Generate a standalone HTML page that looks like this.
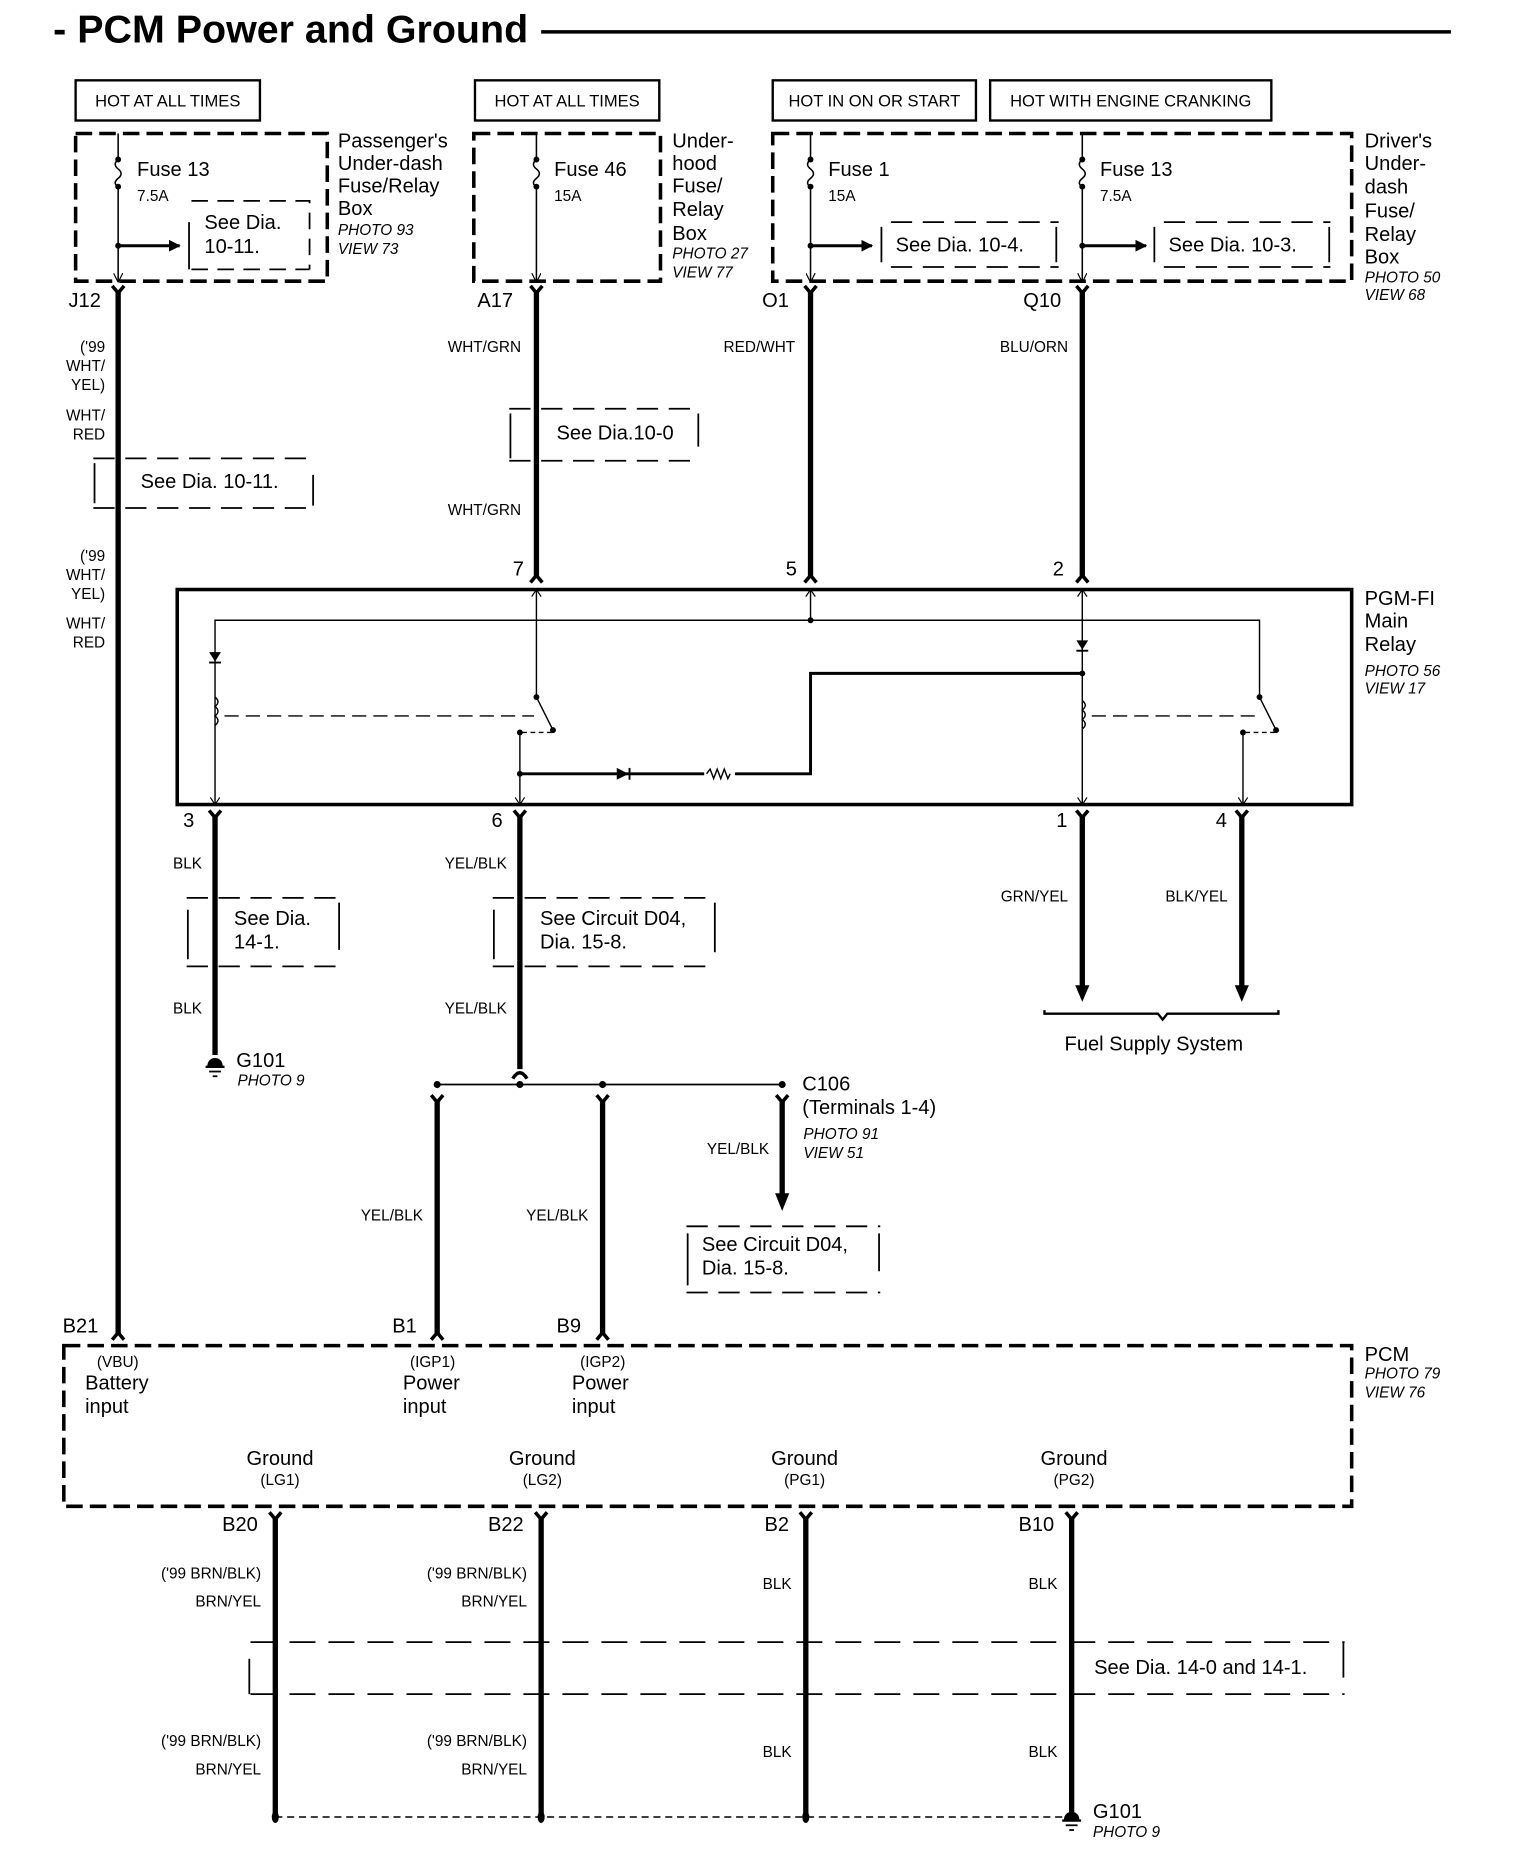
<!DOCTYPE html>
<html><head><meta charset="utf-8"><style>
html,body{margin:0;padding:0;background:#fff;}
svg{display:block;}
text{font-family:"Liberation Sans",Arial,sans-serif;fill:#000;}
.L{font-size:17px;}
.S{font-size:13px;}
.I{font-size:13px;font-style:italic;}
.H{font-size:14px;}
.r{text-anchor:end;}
.c{text-anchor:middle;}
</style></head><body>
<svg width="1536" height="1856" viewBox="0 0 1300 1571" preserveAspectRatio="none" xmlns="http://www.w3.org/2000/svg">
<defs>
<marker id="ah" markerWidth="10" markerHeight="10" refX="9" refY="5" orient="auto" markerUnits="userSpaceOnUse"><path d="M0,0 L10,5 L0,10 Z" fill="#000"/></marker>
<marker id="as" markerWidth="8" markerHeight="8" refX="7" refY="4" orient="auto" markerUnits="userSpaceOnUse"><path d="M0,0 L8,4 L0,8" fill="none" stroke="#000" stroke-width="1"/></marker>
</defs>
<rect width="1300" height="1571" fill="#fff"/>
<!-- Title -->
<text x="45" y="36" style="font-size:33px;font-weight:bold" textLength="402" lengthAdjust="spacingAndGlyphs">- PCM Power and Ground</text>
<line x1="458" y1="27" x2="1228" y2="27" stroke="#000" stroke-width="3"/>

<!-- HOT boxes -->
<g fill="none" stroke="#000" stroke-width="2">
<rect x="64" y="68" width="156" height="34"/>
<rect x="402" y="68" width="156" height="34"/>
<rect x="654" y="68" width="172" height="34"/>
<rect x="838" y="68" width="238" height="34"/>
</g>
<text class="H c" x="142" y="90">HOT AT ALL TIMES</text>
<text class="H c" x="480" y="90">HOT AT ALL TIMES</text>
<text class="H c" x="740" y="90">HOT IN ON OR START</text>
<text class="H c" x="957" y="90">HOT WITH ENGINE CRANKING</text>

<!-- Fuse boxes -->
<g fill="none" stroke="#000" stroke-width="3" stroke-dasharray="14,6">
<rect x="64" y="113" width="213" height="125"/>
<rect x="401" y="113" width="158" height="125"/>
<rect x="654" y="113" width="490" height="125"/>
</g>
<g stroke="#000" stroke-width="1.3" fill="none">
<path d="M100,113 V135 M100,158 V238" marker-end="url(#as)"/>
<path d="M100,135 q-5,4 0,8 q5,4 0,8 q-5,4 0,7"/>
<path d="M454,113 V135 M454,158 V238" marker-end="url(#as)"/>
<path d="M454,135 q-5,4 0,8 q5,4 0,8 q-5,4 0,7"/>
<path d="M686,113 V135 M686,158 V238" marker-end="url(#as)"/>
<path d="M686,135 q-5,4 0,8 q5,4 0,8 q-5,4 0,7"/>
<path d="M916,113 V135 M916,158 V238" marker-end="url(#as)"/>
<path d="M916,135 q-5,4 0,8 q5,4 0,8 q-5,4 0,7"/>
</g>
<g fill="#000">
<circle cx="100" cy="135" r="2.5"/><circle cx="100" cy="158" r="2.5"/><circle cx="100" cy="208" r="2.5"/>
<circle cx="454" cy="135" r="2.5"/><circle cx="454" cy="158" r="2.5"/>
<circle cx="686" cy="135" r="2.5"/><circle cx="686" cy="158" r="2.5"/><circle cx="686" cy="208" r="2.5"/>
<circle cx="916" cy="135" r="2.5"/><circle cx="916" cy="158" r="2.5"/><circle cx="916" cy="208" r="2.5"/>
</g>
<g stroke="#000" stroke-width="2.5">
<line x1="100" y1="208" x2="152" y2="208" marker-end="url(#ah)"/>
<line x1="686" y1="208" x2="738" y2="208" marker-end="url(#ah)"/>
<line x1="916" y1="208" x2="970" y2="208" marker-end="url(#ah)"/>
</g>
<g stroke="#000" stroke-width="1.5" fill="none">
<path d="M162,170 H262 V228" stroke-dasharray="14,8"/><path d="M162,228 H262" stroke-dasharray="14,8"/><path d="M160,188 V228"/>
<path d="M754,188 H896" stroke-dasharray="18,9"/><path d="M754,226 H896" stroke-dasharray="18,9"/><path d="M746,192 V222 M894,192 V222"/>
<path d="M985,188 H1126" stroke-dasharray="18,9"/><path d="M985,226 H1126" stroke-dasharray="18,9"/><path d="M977,192 V222 M1125,192 V222"/>
</g>
<text class="L" x="116" y="149">Fuse 13</text><text class="S" x="116" y="170">7.5A</text>
<text class="L" x="173" y="194">See Dia.</text><text class="L" x="173" y="214">10-11.</text>
<text class="L" x="469" y="149">Fuse 46</text><text class="S" x="469" y="170">15A</text>
<text class="L" x="701" y="149">Fuse 1</text><text class="S" x="701" y="170">15A</text>
<text class="L" x="931" y="149">Fuse 13</text><text class="S" x="931" y="170">7.5A</text>
<text class="L" x="758" y="213">See Dia.  10-4.</text>
<text class="L" x="989" y="213">See Dia. 10-3.</text>

<text class="L" x="286" y="125">Passenger's</text><text class="L" x="286" y="144">Under-dash</text><text class="L" x="286" y="163">Fuse/Relay</text><text class="L" x="286" y="182">Box</text>
<text class="I" x="286" y="199">PHOTO 93</text><text class="I" x="286" y="215">VIEW 73</text>
<text class="L" x="569" y="125">Under-</text><text class="L" x="569" y="144">hood</text><text class="L" x="569" y="163">Fuse/</text><text class="L" x="569" y="183">Relay</text><text class="L" x="569" y="203">Box</text>
<text class="I" x="569" y="219">PHOTO 27</text><text class="I" x="569" y="235">VIEW 77</text>
<text class="L" x="1155" y="125">Driver's</text><text class="L" x="1155" y="144">Under-</text><text class="L" x="1155" y="164">dash</text><text class="L" x="1155" y="184">Fuse/</text><text class="L" x="1155" y="204">Relay</text><text class="L" x="1155" y="223">Box</text>
<text class="I" x="1155" y="239">PHOTO 50</text><text class="I" x="1155" y="254">VIEW 68</text>

<g stroke="#000" stroke-width="3" fill="none">
<path d="M95,242 L100,248 L105,242"/><path d="M449,242 L454,248 L459,242"/><path d="M681,242 L686,248 L691,242"/><path d="M911,242 L916,248 L921,242"/>
<path d="M177,686 L182,692 L187,686"/><path d="M435,686 L440,692 L445,686"/><path d="M911,686 L916,692 L921,686"/><path d="M1046,686 L1051,692 L1056,686"/>
<path d="M228,1280 L233,1286 L238,1280"/><path d="M453,1280 L458,1286 L463,1280"/><path d="M677,1280 L682,1286 L687,1280"/><path d="M902,1280 L907,1286 L912,1280"/>
<path d="M365,927 L370,933 L375,927"/><path d="M505,927 L510,933 L515,927"/><path d="M657,927 L662,933 L667,927"/>
<path d="M449,493 L454,487 L459,493"/><path d="M681,493 L686,487 L691,493"/><path d="M911,493 L916,487 L921,493"/>
<path d="M95,1134 L100,1128 L105,1134"/><path d="M365,1134 L370,1128 L375,1134"/><path d="M505,1134 L510,1128 L515,1134"/>
</g>
<g stroke="#000" stroke-width="4.5" fill="none">
<line x1="100" y1="246" x2="100" y2="1129"/>
<line x1="454" y1="246" x2="454" y2="488"/>
<line x1="686" y1="246" x2="686" y2="488"/>
<line x1="916" y1="246" x2="916" y2="488"/>
<line x1="182" y1="690" x2="182" y2="893"/>
<line x1="440" y1="690" x2="440" y2="905"/>
<line x1="916" y1="690" x2="916" y2="836"/>
<line x1="1051" y1="690" x2="1051" y2="836"/>
<line x1="370" y1="931" x2="370" y2="1129"/>
<line x1="510" y1="931" x2="510" y2="1129"/>
<line x1="662" y1="931" x2="662" y2="1012"/>
<line x1="233" y1="1284" x2="233" y2="1538"/>
<line x1="458" y1="1284" x2="458" y2="1538"/>
<line x1="682" y1="1284" x2="682" y2="1538"/>
<line x1="907" y1="1284" x2="907" y2="1536"/>
</g>
<g fill="#000">
<path d="M910,834 L922,834 L916,848 Z"/><path d="M1045,834 L1057,834 L1051,848 Z"/><path d="M656,1010 L668,1010 L662,1025 Z"/>
</g>
<text class="L" x="58" y="260">J12</text><text class="L" x="404" y="260">A17</text><text class="L" x="645" y="260">O1</text><text class="L" x="866" y="260">Q10</text>

<text class="S r" x="89" y="298">('99</text><text class="S r" x="89" y="314">WHT/</text><text class="S r" x="89" y="330">YEL)</text>
<text class="S r" x="89" y="356">WHT/</text><text class="S r" x="89" y="372">RED</text>
<text class="S r" x="89" y="475">('99</text><text class="S r" x="89" y="491">WHT/</text><text class="S r" x="89" y="507">YEL)</text>
<text class="S r" x="89" y="532">WHT/</text><text class="S r" x="89" y="548">RED</text>
<text class="S r" x="441" y="298">WHT/GRN</text><text class="S r" x="441" y="436">WHT/GRN</text>
<text class="S r" x="673" y="298">RED/WHT</text><text class="S r" x="904" y="298">BLU/ORN</text>

<g stroke="#000" stroke-width="1.5" fill="none">
<path d="M79,388 H266" stroke-dasharray="18,9"/><path d="M79,430 H266" stroke-dasharray="18,9"/><path d="M80,392 V426 M265,402 V428"/>
<path d="M431,346 H592" stroke-dasharray="18,9"/><path d="M431,390 H592" stroke-dasharray="18,9"/><path d="M432,350 V388 M591,350 V378"/>
<path d="M158,760 H288" stroke-dasharray="18,9"/><path d="M158,818 H288" stroke-dasharray="18,9"/><path d="M159,770 V812 M287,764 V804"/>
<path d="M417,760 H606" stroke-dasharray="18,9"/><path d="M417,818 H606" stroke-dasharray="18,9"/><path d="M418,770 V812 M605,764 V806"/>
<path d="M581,1038 H745" stroke-dasharray="18,9"/><path d="M581,1094 H745" stroke-dasharray="18,9"/><path d="M582,1044 V1088 M744,1044 V1076"/>
</g>
<text class="L" x="119" y="413">See Dia. 10-11.</text>
<text class="L" x="471" y="372">See Dia.10-0</text>

<rect x="150" y="499" width="994" height="182" fill="none" stroke="#000" stroke-width="3"/>
<text class="L" x="434" y="487">7</text><text class="L" x="665" y="487">5</text><text class="L" x="891" y="487">2</text>
<text class="L" x="1155" y="512">PGM-FI</text><text class="L" x="1155" y="531">Main</text><text class="L" x="1155" y="551">Relay</text>
<text class="I" x="1155" y="572">PHOTO 56</text><text class="I" x="1155" y="587">VIEW 17</text>
<g stroke="#000" stroke-width="1.2" fill="none">
<path d="M182,681 V525 H1066 V590"/>
<path d="M454,499 V590 L468,618"/>
<path d="M686,499 V525"/>
<path d="M916,499 V681"/>
<path d="M440,620 V681"/>
<path d="M1052,620 V681"/>
<path d="M190,606 H452 M924,606 H1062" stroke-dasharray="12,6"/>
<path d="M1066,590 L1080,618"/>
<path d="M442,620 H468 M1054,620 H1080" stroke-dasharray="4,3"/>
<path d="M182,590 q5,4 0,8 q5,4 0,8 q5,4 0,8" />
<path d="M916,593 q5,4 0,8 q5,4 0,8 q5,4 0,8"/>
</g>
<g stroke="#000" stroke-width="1" fill="none">
<path d="M178,675 L182,681 L186,675 M436,675 L440,681 L444,675 M912,675 L916,681 L920,675 M1048,675 L1052,681 L1056,675"/>
<path d="M450,505 L454,499 L458,505 M682,505 L686,499 L690,505 M912,505 L916,499 L920,505"/>
</g>
<g stroke="#000" stroke-width="2.5" fill="none">
<path d="M440,655 H686 V570 H916"/>
</g>
<line x1="596" y1="655" x2="622" y2="655" stroke="#fff" stroke-width="4"/>
<path d="M598,655 l3,-4 l3,8 l3,-8 l3,8 l3,-8 l3,8 l2,-4" stroke="#000" stroke-width="1.2" fill="none"/>
<g fill="#000">
<path d="M522,650 L532,655 L522,660 Z"/><rect x="532" y="650" width="1.6" height="10"/>
<path d="M177,552 L187,552 L182,560 Z"/><rect x="177" y="560" width="10" height="1.6"/>
<path d="M911,542 L921,542 L916,550 Z"/><rect x="911" y="550" width="10" height="1.6"/>
<circle cx="686" cy="525" r="2.5"/><circle cx="916" cy="570" r="2.5"/><circle cx="440" cy="655" r="2.5"/>
<circle cx="454" cy="590" r="2.5"/><circle cx="468" cy="618" r="2.5"/><circle cx="440" cy="620" r="2.5"/>
<circle cx="1066" cy="590" r="2.5"/><circle cx="1080" cy="618" r="2.5"/><circle cx="1052" cy="620" r="2.5"/>
</g>
<text class="L" x="155" y="700">3</text><text class="L" x="416" y="700">6</text><text class="L" x="894" y="700">1</text><text class="L" x="1029" y="700">4</text>

<text class="S r" x="171" y="735">BLK</text><text class="S r" x="171" y="858">BLK</text>
<text class="L" x="198" y="783">See Dia.</text><text class="L" x="198" y="803">14-1.</text>
<g fill="#000" stroke="#000">
<path d="M176,902 a6,6 0 0,1 12,0 Z"/><line x1="174" y1="903" x2="190" y2="903" stroke-width="2"/><line x1="177" y1="907" x2="187" y2="907" stroke-width="1.5"/><line x1="180" y1="911" x2="184" y2="911" stroke-width="1.5"/>
</g>
<text class="L" x="200" y="903">G101</text><text class="I" x="201" y="919">PHOTO 9</text>
<text class="S r" x="429" y="735">YEL/BLK</text><text class="S r" x="429" y="858">YEL/BLK</text>
<text class="L" x="457" y="783">See Circuit D04,</text><text class="L" x="457" y="803">Dia. 15-8.</text>
<line x1="370" y1="918" x2="662" y2="918" stroke="#000" stroke-width="1.5"/>
<path d="M434,913 q6,-10 12,0" stroke="#000" stroke-width="3" fill="none"/>
<g fill="#000"><circle cx="370" cy="918" r="3"/><circle cx="440" cy="918" r="3"/><circle cx="510" cy="918" r="3"/><circle cx="662" cy="918" r="3"/></g>
<text class="L" x="679" y="923">C106</text><text class="L" x="679" y="943">(Terminals 1-4)</text>
<text class="I" x="680" y="964">PHOTO 91</text><text class="I" x="680" y="980">VIEW 51</text>
<text class="S r" x="651" y="977">YEL/BLK</text>
<text class="L" x="594" y="1059">See Circuit D04,</text><text class="L" x="594" y="1079">Dia. 15-8.</text>
<text class="S r" x="358" y="1033">YEL/BLK</text><text class="S r" x="498" y="1033">YEL/BLK</text>

<text class="S r" x="904" y="763">GRN/YEL</text><text class="S r" x="1039" y="763">BLK/YEL</text>
<path d="M884,855 V858 H980 L984,863 L988,858 H1082 V855" stroke="#000" stroke-width="2" fill="none"/>
<text class="L" x="901" y="889">Fuel Supply System</text>

<text class="L" x="53" y="1128">B21</text><text class="L" x="332" y="1128">B1</text><text class="L" x="471" y="1128">B9</text>
<rect x="54" y="1139" width="1090" height="136" fill="none" stroke="#000" stroke-width="3" stroke-dasharray="14,6"/>
<text class="S" x="82" y="1157">(VBU)</text><text class="L" x="72" y="1176">Battery</text><text class="L" x="72" y="1196">input</text>
<text class="S" x="347" y="1157">(IGP1)</text><text class="L" x="341" y="1176">Power</text><text class="L" x="341" y="1196">input</text>
<text class="S" x="491" y="1157">(IGP2)</text><text class="L" x="484" y="1176">Power</text><text class="L" x="484" y="1196">input</text>
<text class="L" x="1155" y="1152">PCM</text><text class="I" x="1155" y="1167">PHOTO 79</text><text class="I" x="1155" y="1183">VIEW 76</text>
<text class="L c" x="237" y="1240">Ground</text><text class="S c" x="237" y="1257">(LG1)</text>
<text class="L c" x="459" y="1240">Ground</text><text class="S c" x="459" y="1257">(LG2)</text>
<text class="L c" x="681" y="1240">Ground</text><text class="S c" x="681" y="1257">(PG1)</text>
<text class="L c" x="909" y="1240">Ground</text><text class="S c" x="909" y="1257">(PG2)</text>
<text class="L" x="188" y="1296">B20</text><text class="L" x="413" y="1296">B22</text><text class="L" x="647" y="1296">B2</text><text class="L" x="862" y="1296">B10</text>

<text class="S r" x="221" y="1336">('99 BRN/BLK)</text><text class="S r" x="221" y="1360">BRN/YEL</text>
<text class="S r" x="446" y="1336">('99 BRN/BLK)</text><text class="S r" x="446" y="1360">BRN/YEL</text>
<text class="S r" x="670" y="1345">BLK</text><text class="S r" x="895" y="1345">BLK</text>
<text class="S r" x="221" y="1478">('99 BRN/BLK)</text><text class="S r" x="221" y="1502">BRN/YEL</text>
<text class="S r" x="446" y="1478">('99 BRN/BLK)</text><text class="S r" x="446" y="1502">BRN/YEL</text>
<text class="S r" x="670" y="1487">BLK</text><text class="S r" x="895" y="1487">BLK</text>

<g stroke="#000" stroke-width="1.5" fill="none">
<path d="M212,1390 H1138" stroke-dasharray="22,11"/>
<path d="M212,1434 H1138" stroke-dasharray="22,11"/>
<path d="M211,1404 V1434 M1137,1390 V1420"/>
</g>
<text class="L" x="926" y="1417">See Dia. 14-0 and 14-1.</text>

<line x1="233" y1="1538" x2="907" y2="1538" stroke="#000" stroke-width="1.2" stroke-dasharray="6,4"/>
<g fill="#000"><ellipse cx="233" cy="1538" rx="3" ry="5"/><ellipse cx="458" cy="1538" rx="3" ry="5"/><ellipse cx="682" cy="1538" rx="3" ry="5"/></g>
<g fill="#000" stroke="#000">
<path d="M901,1540 a6,6 0 0,1 12,0 Z"/><line x1="899" y1="1541" x2="915" y2="1541" stroke-width="2"/><line x1="902" y1="1545" x2="912" y2="1545" stroke-width="1.5"/><line x1="905" y1="1549" x2="909" y2="1549" stroke-width="1.5"/>
</g>
<text class="L" x="925" y="1539">G101</text><text class="I" x="925" y="1555">PHOTO 9</text>
</svg>
</body></html>
